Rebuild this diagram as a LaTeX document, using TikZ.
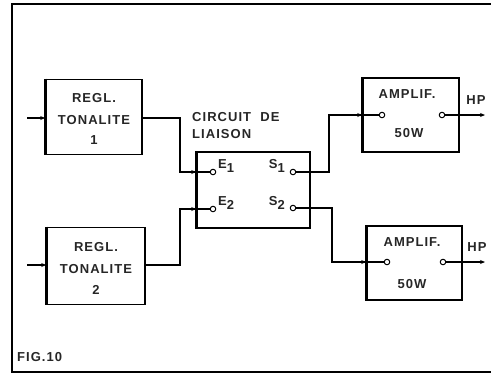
\documentclass[tikz,border=0pt]{standalone}
\usepackage{fontspec}
\setmainfont[LetterSpace=8]{Liberation Sans}
\usetikzlibrary{arrows.meta}
\newcommand{\subd}[1]{\raisebox{-4pt}{#1}}
\begin{document}
\begin{tikzpicture}[x=1pt,y=-1pt,
  blk/.style={draw,line width=1.6pt,inner sep=0pt},
  wire/.style={line width=1.3pt},
  arr/.style={wire,-{Stealth[length=5pt,width=4pt]}},
  term/.style={circle,draw,line width=1pt,fill=white,inner sep=0pt,minimum size=5.5pt},
  lbl/.style={font=\fontsize{13}{15}\selectfont\bfseries,inner sep=0pt,text=black!85}]
\useasboundingbox (0,0) rectangle (491,376);
% frame
\draw[line width=1.6pt] (491,4) -- (12,4) -- (12,372) -- (491,372);
% blocks
\node[blk,minimum width=96pt,minimum height=75pt] (r1) at (94,117) {};
\node[blk,minimum width=98pt,minimum height=77pt] (r2) at (96,266) {};
\node[blk,minimum width=113pt,minimum height=76pt] (c) at (253.5,190) {};
\node[blk,minimum width=96pt,minimum height=74pt] (a1) at (411,115) {};
\node[blk,minimum width=95pt,minimum height=74pt] (a2) at (414.5,263) {};
% thick left edges
\draw[line width=2.6pt] (r1.north west) -- (r1.south west);
\draw[line width=2.6pt] (r2.north west) -- (r2.south west);
\draw[line width=2.6pt] (c.north west) -- (c.south west);
\draw[line width=2.2pt] (a1.north west) -- (a1.south west);
\draw[line width=2.2pt] (a2.north west) -- (a2.south west);
% texts
\node[lbl] at (94,98) {REGL.};
\node[lbl] at (94,120) {TONALITE};
\node[lbl] at (94,140) {1};
\node[lbl] at (96,247) {REGL.};
\node[lbl] at (96,269) {TONALITE};
\node[lbl] at (96,290) {2};
\node[lbl,anchor=west] at (192,117) {CIRCUIT\ \ DE};
\node[lbl,anchor=west] at (192,134) {LIAISON};
\node[lbl] at (407,94) {AMPLIF.};
\node[lbl] at (409,133) {50W};
\node[lbl] at (412,242) {AMPLIF.};
\node[lbl] at (412,284) {50W};
\node[lbl] at (476,100) {HP};
\node[lbl] at (477,247) {HP};
\node[lbl,anchor=west] at (17,357) {FIG.10};
% terminals
\node[term] (e1) at (213,172) {};
\node[term] (e2) at (213,209) {};
\node[term] (s1) at (293,172) {};
\node[term] (s2) at (293,208) {};
\node[lbl,anchor=west] at (218,166) {E\subd{1}};
\node[lbl,anchor=west] at (218,203) {E\subd{2}};
\node[lbl,anchor=east] at (285,166) {S\subd{1}};
\node[lbl,anchor=east] at (285,203) {S\subd{2}};
\node[term] (i1) at (382,115) {};
\node[term] (o1) at (442,115) {};
\node[term] (i2) at (387,262) {};
\node[term] (o2) at (443,262) {};
% input coords
\coordinate (in1) at (27,118);
\coordinate (in2) at (27,265);
\coordinate (hp1) at (485,115);
\coordinate (hp2) at (485,262);
% connectors
\draw[arr] (in1) -- (r1.west |- in1);
\draw[arr] (in2) -- (r2.west |- in2);
\draw[wire] (r1.east |- in1) -| (180,172) -- (e1);
\draw[arr] (180,172) -- (c.west |- e1);
\draw[wire] (r2.east |- in2) -| (180,209) -- (e2);
\draw[arr] (180,209) -- (c.west |- e2);
\draw[wire] (s1) -| (329,115) -- (i1);
\draw[arr] (329,115) -- (a1.west |- i1);
\draw[wire] (s2) -| (332,262) -- (i2);
\draw[arr] (332,262) -- (a2.west |- i2);
\draw[arr] (o1) -- (hp1);
\draw[arr] (o2) -- (hp2);
\end{tikzpicture}
\end{document}
